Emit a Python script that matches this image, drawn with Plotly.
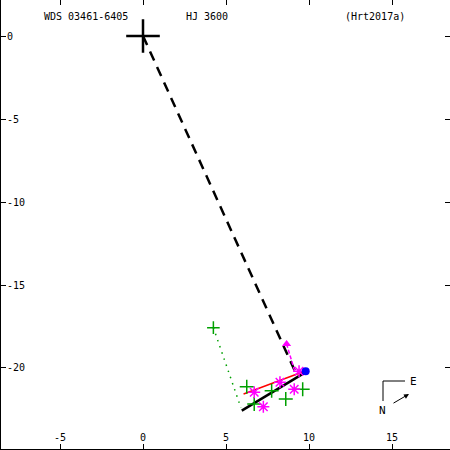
import plotly.graph_objects as go

# ---- data ----
x_tick_vals = [-5, 0, 5, 10, 15]
x_tick_text = ["-5", "0", "5", "10", "15"]
y_tick_vals = [0, -5, -10, -15, -20]
y_tick_text = ["0", "-5", "-10", "-15", "-20"]

primary_x = [0.0]
primary_y = [0.0]

node_x = [0.0, 9.25]
node_y = [0.0, -20.4]

orbit_x = [5.95, 9.75]
orbit_y = [-22.57, -20.28]

red_x = [6.06, 9.85]
red_y = [-21.57, -20.15]

mag_line_x = [8.65, 9.15]
mag_line_y = [-18.55, -20.22]

tri_x = [8.65]
tri_y = [-18.55]

star_x = [6.70, 8.25, 9.11, 7.25, 9.40]
star_y = [-21.46, -20.86, -21.28, -22.33, -20.20]

green_x = [6.25, 7.75, 8.60, 9.62, 6.70]
green_y = [-21.13, -21.37, -21.87, -21.28, -22.17]

old_x = [4.24]
old_y = [-17.57]
old_link_x = [4.24, 5.90]
old_link_y = [-17.57, -22.40]

blue_x = [9.80]
blue_y = [-20.20]

FONT = "DejaVu Sans Mono"
GREEN = "#00a000"

fig = go.Figure()

fig.add_trace(go.Scatter(x=old_link_x, y=old_link_y, mode="lines",
                         line=dict(color=GREEN, width=1.5, dash="1.5px,5px")))
fig.add_trace(go.Scatter(x=node_x, y=node_y, mode="lines",
                         line=dict(color="black", width=2.5, dash="10px,7px")))
fig.add_trace(go.Scatter(x=orbit_x, y=orbit_y, mode="lines",
                         line=dict(color="black", width=2.5)))
fig.add_trace(go.Scatter(x=red_x, y=red_y, mode="lines",
                         line=dict(color="red", width=1.5)))
fig.add_trace(go.Scatter(x=mag_line_x, y=mag_line_y, mode="lines",
                         line=dict(color="magenta", width=1.5, dash="4px,2px")))
fig.add_trace(go.Scatter(x=tri_x, y=tri_y, mode="markers",
                         marker=dict(symbol="triangle-up", color="magenta", size=8)))
fig.add_trace(go.Scatter(x=green_x, y=green_y, mode="markers",
                         marker=dict(symbol="cross-thin-open", size=10, color=GREEN,
                                     line=dict(color=GREEN, width=1.5))))
fig.add_trace(go.Scatter(x=old_x, y=old_y, mode="markers",
                         marker=dict(symbol="cross-thin-open", size=9, color=GREEN,
                                     line=dict(color=GREEN, width=1.5))))
fig.add_trace(go.Scatter(x=star_x, y=star_y, mode="markers",
                         marker=dict(symbol="asterisk-open", size=10, color="magenta",
                                     line=dict(color="magenta", width=1.5))))
fig.add_trace(go.Scatter(x=blue_x, y=blue_y, mode="markers",
                         marker=dict(symbol="circle", color="blue", size=8)))
fig.add_trace(go.Scatter(x=primary_x, y=primary_y, mode="markers",
                         marker=dict(symbol="cross-thin-open", size=24, color="black",
                                     line=dict(color="black", width=2.5))))

axis_font = dict(family=FONT, size=10, color="black")

fig.update_layout(
    width=450, height=450,
    margin=dict(l=1, r=0, t=0, b=1),
    paper_bgcolor="white", plot_bgcolor="white",
    showlegend=False,
    font=axis_font,
    xaxis=dict(range=[-8.554, 18.494], tickvals=x_tick_vals, ticktext=x_tick_text,
               ticks="inside", ticklen=5, tickwidth=1, tickcolor="black",
               ticklabelposition="inside", showgrid=False, zeroline=False,
               showline=True, linecolor="black", linewidth=2, tickfont=axis_font),
    yaxis=dict(range=[-24.88, 2.169], tickvals=y_tick_vals, ticktext=y_tick_text,
               ticks="inside", ticklen=5, tickwidth=1, tickcolor="black",
               ticklabelposition="inside", showgrid=False, zeroline=False,
               showline=True, linecolor="black", linewidth=2, tickfont=axis_font),
    xaxis2=dict(range=[-8.554, 18.494], overlaying="x", side="top", matches="x",
                tickvals=x_tick_vals, ticks="inside", ticklen=5, tickcolor="black",
                showticklabels=False, showgrid=False, zeroline=False, showline=False),
    yaxis2=dict(range=[-24.88, 2.169], overlaying="y", side="right", matches="y",
                tickvals=y_tick_vals, ticks="inside", ticklen=5, tickcolor="black",
                showticklabels=False, showgrid=False, zeroline=False, showline=False),
)
# dummy trace to activate secondary axes
fig.add_trace(go.Scatter(x=[None], y=[None], xaxis="x2", yaxis="y2", showlegend=False))

def px(xp):
    return (xp - 1) / 449.0

def py(yp):
    return 1 - yp / 449.0

for txt, cx in [("WDS 03461-6405", 86), ("HJ 3600", 207), ("(Hrt2017a)", 375)]:
    fig.add_annotation(text=txt, x=px(cx), y=py(17), xref="paper", yref="paper",
                       xanchor="center", yanchor="middle",
                       showarrow=False, font=dict(family=FONT, size=10, color="black"))

# compass
fig.add_shape(type="line", xref="paper", yref="paper",
              x0=px(383), y0=py(381), x1=px(405), y1=py(381), line=dict(color="black", width=1))
fig.add_shape(type="line", xref="paper", yref="paper",
              x0=px(383), y0=py(381), x1=px(383), y1=py(401), line=dict(color="black", width=1))
fig.add_annotation(text="E", x=px(413), y=py(381), xref="paper", yref="paper",
                   xanchor="center", yanchor="middle",
                   showarrow=False, font=dict(family=FONT, size=11, color="black"))
fig.add_annotation(text="N", x=px(382), y=py(410), xref="paper", yref="paper",
                   xanchor="center", yanchor="middle",
                   showarrow=False, font=dict(family=FONT, size=11, color="black"))
fig.add_annotation(text="", x=px(409), y=py(394), ax=-17, ay=10,
                   xref="paper", yref="paper", axref="pixel", ayref="pixel",
                   showarrow=True, arrowhead=2, arrowsize=1, arrowwidth=1,
                   arrowcolor="black")

fig.write_html("out.html", config={"displayModeBar": False},
               post_script="document.body.style.margin='0';")
